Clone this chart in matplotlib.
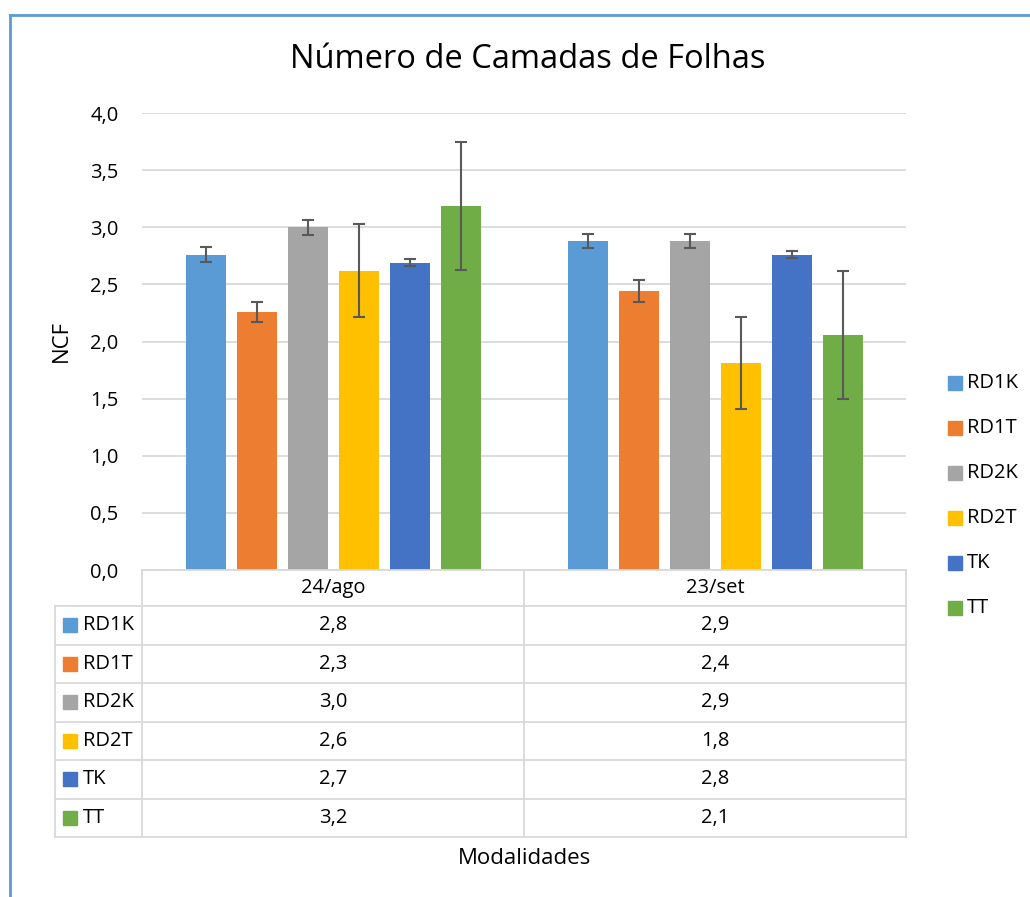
import matplotlib.pyplot as plt
from matplotlib.lines import Line2D
from matplotlib.patches import Rectangle
import numpy as np

plt.rcParams['font.family'] = ['Open Sans', 'DejaVu Sans']

# dados
datas = ['24/ago', '23/set']
series = ['RD1K', 'RD1T', 'RD2K', 'RD2T', 'TK', 'TT']
cores = ['#5B9BD5', '#ED7D31', '#A5A5A5', '#FFC000', '#4472C4', '#70AD47']
RD1K = [2.76, 2.88]
RD1T = [2.26, 2.44]
RD2K = [3.00, 2.88]
RD2T = [2.62, 1.81]
TK = [2.69, 2.76]
TT = [3.19, 2.06]
err_RD1K = [0.065, 0.065]
err_RD1T = [0.09, 0.095]
err_RD2K = [0.065, 0.065]
err_RD2T = [0.405, 0.405]
err_TK = [0.03, 0.03]
err_TT = [0.56, 0.56]
valores = [RD1K, RD1T, RD2K, RD2T, TK, TT]
erros = [err_RD1K, err_RD1T, err_RD2K, err_RD2T, err_TK, err_TT]

W, H = 1030, 897
fig = plt.figure(figsize=(W/100, H/100), dpi=100)
fs = 14.5

def fx(p):
    return p/W

def fy(p):
    return 1 - p/H

def linha(x0, x1, y0, y1, cor='#d9d9d9', lw=1.3):
    fig.add_artist(Line2D([fx(x0), fx(x1)], [fy(y0), fy(y1)], transform=fig.transFigure,
                          color=cor, lw=lw))

ax = fig.add_axes([fx(142), fy(570), fx(906)-fx(142), fy(113)-fy(570)])
x = np.arange(len(datas))
larg = 40/382
passo = 51/382
for i in range(len(series)):
    ax.bar(x + (i-2.5)*passo, valores[i], larg, color=cores[i], zorder=2,
           yerr=erros[i], error_kw=dict(ecolor='#595959', elinewidth=1.5, capsize=4.5, capthick=1.5))

ax.set_xlim(-0.5, 1.5)
ax.set_ylim(0, 4.0)
ax.set_yticks(np.arange(0, 4.01, 0.5))
ax.set_yticklabels([f'{v:.1f}'.replace('.', ',') for v in np.arange(0, 4.01, 0.5)], fontsize=fs)
ax.set_xticks([])
ax.tick_params(axis='y', length=0, pad=17)
ax.grid(axis='y', color='#d9d9d9', lw=1.3, zorder=0)
for s in ax.spines.values():
    s.set_visible(False)

# titulo e eixos
fig.text(fx(528), fy(60), 'Número de Camadas de Folhas', fontsize=23.5, ha='center', va='center')
fig.text(fx(61), fy(341), 'NCF', fontsize=16, rotation=90, ha='center', va='center')
fig.text(fx(524), fy(858), 'Modalidades', fontsize=16, ha='center', va='center')

# tabela de dados
y_linhas = [606 + 38.5*k for k in range(7)]
linha(142, 906, 570, 570)
for yl in y_linhas:
    linha(55, 906, yl, yl)
for xl in [142, 524, 906]:
    linha(xl, xl, 570, 837)
linha(55, 55, 606, 837)
centros = [333, 715]
for j, d in enumerate(datas):
    fig.text(fx(centros[j]), fy(588), d, fontsize=fs, ha='center', va='center')
for i, s in enumerate(series):
    yc = (y_linhas[i] + y_linhas[i+1])/2
    fig.add_artist(Rectangle((fx(63), fy(yc+7)), fx(14), 14/H, color=cores[i], transform=fig.transFigure))
    fig.text(fx(83), fy(yc), s, fontsize=fs, ha='left', va='center')
    for j in range(len(datas)):
        fig.text(fx(centros[j]), fy(yc), f'{valores[i][j]:.1f}'.replace('.', ','),
                 fontsize=fs, ha='center', va='center')

# legenda
for i, s in enumerate(series):
    yc = 383 + 45*i
    fig.add_artist(Rectangle((fx(948), fy(yc+7)), fx(14), 14/H, color=cores[i], transform=fig.transFigure))
    fig.text(fx(967), fy(yc), s, fontsize=fs, ha='left', va='center')

# moldura
linha(9.5, 9.5, 15, 897, cor='#5B9BD5', lw=2)
linha(9.5, 1030, 15, 15, cor='#5B9BD5', lw=2)

plt.savefig('out.png', dpi=100)
